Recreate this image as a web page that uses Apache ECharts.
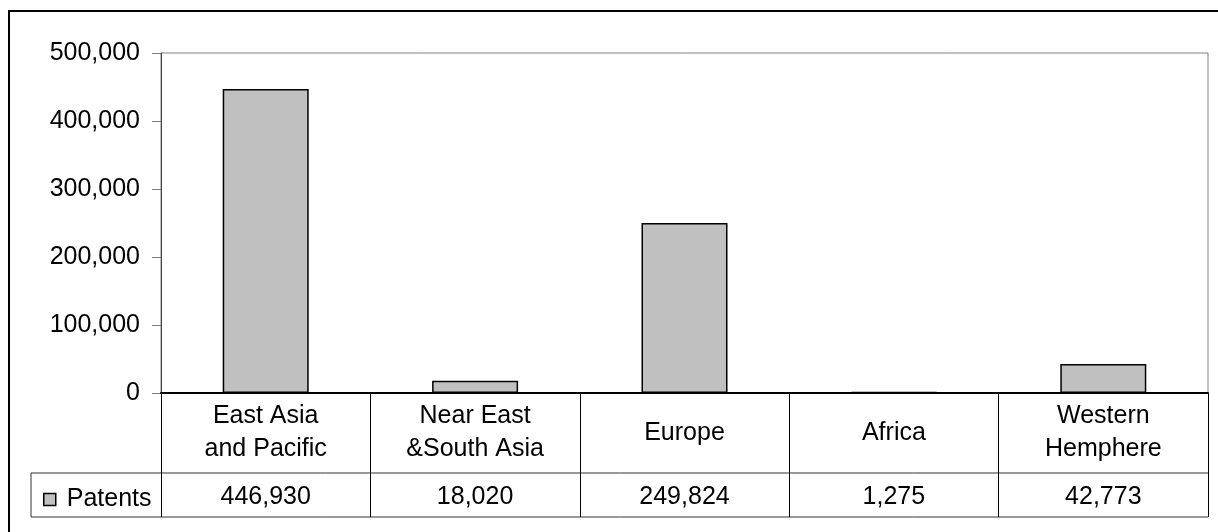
<!DOCTYPE html>
<html><head><meta charset="utf-8">
<script src="https://cdn.jsdelivr.net/npm/echarts@6/dist/echarts.min.js"></script>
<style>html,body{margin:0;padding:0;background:#fff}#c{width:1218px;height:532px}</style>
</head><body><div id="c"></div>
<script>
const categories = ['East Asia\nand Pacific', 'Near East\n&South Asia', 'Europe', 'Africa', 'Western\nHemphere'];
const patents = [446930, 18020, 249824, 1275, 42773];
const seriesName = 'Patents';
const yMin = 0, yMax = 500000, yStep = 100000;

const FONT = 'Liberation Sans, Arial, sans-serif';
const fmt = v => Number(v).toLocaleString('en-US');
const chart = echarts.init(document.getElementById('c'), null, {renderer: 'canvas'});

const gridL = 161, gridR = 1208, gridT = 53, gridB = 393;
const row1B = 473, row2B = 517, tableL = 31;

chart.setOption({
  animation: false,
  backgroundColor: '#fff',
  textStyle: {fontFamily: FONT},
  grid: {left: gridL, right: 1218 - gridR, top: gridT, bottom: 532 - gridB,
         show: true, borderColor: '#808080', borderWidth: 1, backgroundColor: 'transparent'},
  legend: {
    data: [seriesName], left: 38, top: 482, icon: 'rect', itemWidth: 12, itemHeight: 12,
    itemStyle: {color: '#c0c0c0', borderColor: '#000', borderWidth: 1.5},
    textStyle: {fontSize: 25, color: '#000', fontFamily: FONT, padding: [0, 0, 0, 6]}
  },
  xAxis: [{
    type: 'category', data: categories, position: 'bottom', z: 5,
    axisLine: {show: true, lineStyle: {color: '#000', width: 2}},
    axisTick: {show: true, length: 124, alignWithLabel: false, lineStyle: {color: '#000', width: 1}},
    axisLabel: {interval: 0, fontSize: 25, lineHeight: 33, color: '#000', fontFamily: FONT,
                verticalAlign: 'middle', margin: 40, align: 'center'},
    splitLine: {show: false}
  }, {
    type: 'category', data: patents.map(fmt), position: 'bottom', offset: row1B - gridB,
    axisLine: {show: false}, axisTick: {show: false},
    axisLabel: {interval: 0, fontSize: 25, color: '#000', fontFamily: FONT,
                verticalAlign: 'middle', margin: 24, align: 'center'}
  }],
  yAxis: {
    type: 'value', min: yMin, max: yMax, interval: yStep,
    axisLine: {show: true, lineStyle: {color: '#404040', width: 1}},
    axisTick: {show: true, length: 9, lineStyle: {color: '#808080'}},
    axisLabel: {fontSize: 25, color: '#000', fontFamily: FONT, margin: 21, formatter: fmt},
    splitLine: {show: false}
  },
  series: [{
    name: seriesName, type: 'bar', data: patents, xAxisIndex: 0, barWidth: 86,
    itemStyle: {color: '#c0c0c0', borderColor: '#000', borderWidth: 1.5}
  }],
  graphic: [
    {type: 'rect', shape: {x: 9, y: 11, width: 1400, height: 800}, style: {fill: 'none', stroke: '#000', lineWidth: 2}, silent: true},
    {type: 'line', shape: {x1: tableL, y1: row1B, x2: gridR, y2: row1B}, style: {stroke: '#333', lineWidth: 1}},
    {type: 'line', shape: {x1: tableL, y1: row2B, x2: gridR, y2: row2B}, style: {stroke: '#333', lineWidth: 1}},
    {type: 'line', shape: {x1: tableL, y1: row1B, x2: tableL, y2: row2B}, style: {stroke: '#333', lineWidth: 1}}
  ]
});
</script></body></html>
